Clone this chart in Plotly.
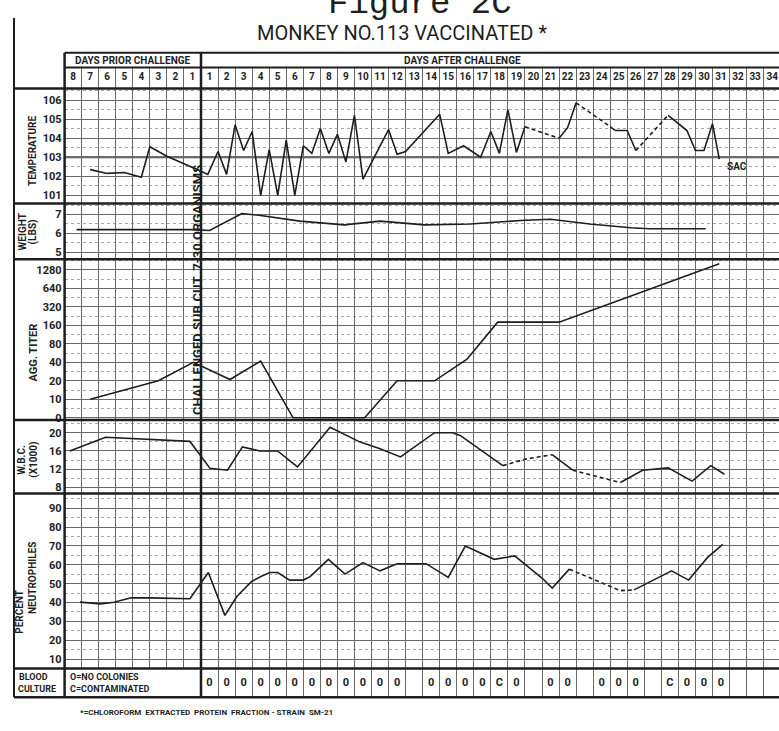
import math
import plotly.graph_objects as go

# ---------------------------------------------------------------------------
# Data (x = day relative to challenge; negative values are days prior)
# ---------------------------------------------------------------------------
PRIOR_LABELS = ["8", "7", "6", "5", "4", "3", "2", "1"]
AFTER_LABELS = ["1", "2", "3", "4", "5", "6", "7", "8", "9", "10", "11", "12",
                "13", "14", "15", "16", "17", "18", "19", "20", "21", "22", "23",
                "24", "25", "26", "27", "28", "29", "30", "31", "32", "33", "34"]

TEMP_DAYS = [-6.5, -5.5, -4.5, -3.5, -3.0, -2.0, -0.1,
             0.4, 1.0, 1.5, 2.0, 2.5, 3.0, 3.5, 4.0, 4.5, 5.0, 5.5, 6.0, 6.5,
             7.0, 7.5, 8.0, 8.5, 9.0, 9.5, 11.0, 11.5, 12.0, 14.0, 14.5, 15.4,
             16.4, 17.0, 17.5, 18.0, 18.5, 19.0, 21.0, 21.5, 22.0, 24.0, 24.3,
             25.0, 25.5, 27.4, 28.5, 29.0, 29.5, 30.0, 30.4]
TEMP_F = [102.35, 102.15, 102.2, 101.95, 103.55, 103.05, 102.3,
          102.1, 103.3, 102.1, 104.7, 103.35, 104.35, 101.0, 103.4, 101.0, 103.9,
          101.0, 103.6, 103.2, 104.5, 103.2, 104.2, 102.75, 105.2, 101.85,
          104.45, 103.15, 103.3, 105.25, 103.2, 103.6, 103.0, 104.35, 103.2,
          105.5, 103.25, 104.6, 104.0, 104.55, 105.85, 104.6, 104.4, 104.4,
          103.35, 105.2, 104.4, 103.35, 103.35, 104.75, 102.9]
TEMP_DASHED = [(19.0, 21.0), (22.0, 24.0), (25.5, 27.4)]

WEIGHT_DAYS = [-7.3, -0.5, 0.5, 2.4, 3.5, 5.8, 8.4, 10.5, 13.1, 15.8, 19.0,
               20.5, 22.8, 25.2, 26.3, 29.6]
WEIGHT_LBS = [6.2, 6.2, 6.15, 7.05, 6.95, 6.65, 6.45, 6.65, 6.45, 6.5, 6.7,
              6.75, 6.5, 6.3, 6.25, 6.25]

TITER_DAYS = [-6.5, -2.5, -0.45, 1.7, 3.5, 5.4, 9.6, 11.5, 13.7, 15.6, 17.4,
              21.0, 30.4]
TITER_VALUES = [10, 20, 40, 21, 42, 0, 0, 20, 20, 45, 180, 180, 1600]
TITER_TICKS = ["0", "10", "20", "40", "80", "160", "320", "640", "1280"]

WBC_DAYS = [-7.7, -5.6, -0.65, 0.53, 1.55, 2.43, 3.46, 4.49, 5.66, 7.57, 9.3,
            10.5, 11.7, 13.7, 14.75, 15.2, 17.7, 19.0, 20.6, 21.8, 24.6, 25.9,
            27.4, 28.8, 29.9, 30.7]
WBC_THOUSANDS = [16.0, 19.0, 18.1, 12.2, 11.8, 16.9, 16.0, 16.0, 12.5, 21.2,
                 18.0, 16.5, 14.7, 20.0, 20.0, 19.4, 12.8, 14.2, 15.2, 11.8,
                 9.1, 11.8, 12.3, 9.4, 12.8, 10.9]
WBC_DASHED = [(17.7, 20.6), (21.8, 24.6)]

NEUT_DAYS = [-7.1, -5.9, -5.1, -4.1, -3.0, -0.65, 0.43, 1.4, 2.1, 2.97, 3.6,
             4.05, 4.5, 5.2, 6.0, 6.4, 7.47, 8.45, 9.5, 10.5, 11.5, 13.2, 14.5,
             15.5, 17.2, 18.4, 20.0, 20.6, 21.6, 23.1, 24.6, 25.4, 26.1, 27.6,
             28.6, 29.7, 30.6]
NEUT_PERCENT = [40.2, 39.3, 40.2, 42.5, 42.5, 42.0, 55.9, 33.2, 43.2, 51.2,
                54.2, 55.9, 55.9, 51.9, 51.9, 53.7, 62.9, 55.1, 61.2, 56.8, 60.6,
                60.6, 53.3, 69.9, 62.9, 64.7, 53.0, 47.7, 57.7, 51.9, 46.3, 46.7,
                49.8, 56.8, 51.9, 63.8, 70.8]
NEUT_DASHED = [(21.6, 25.4)]

CULTURE_DAYS = [1, 2, 3, 4, 5, 6, 7, 8, 9, 10, 11, 12,
                14, 15, 16, 17, 18, 19,
                21, 22,
                24, 25, 26,
                28, 29, 30, 31]
CULTURE_MARKS = ["0", "0", "0", "0", "0", "0", "0", "0", "0", "0", "0", "0",
                 "0", "0", "0", "0", "C", "0",
                 "0", "0",
                 "0", "0", "0",
                 "C", "0", "0", "0"]

# ---------------------------------------------------------------------------
# Page geometry (pixels) and styling
# ---------------------------------------------------------------------------
W, H = 779, 731
CHALLENGE_PX = 201.0
DAY_PX = 17.05
GRID_LEFT_PX = CHALLENGE_PX - len(PRIOR_LABELS) * DAY_PX
FRAME_LEFT_PX = 14.0

HEADER_TOP, HEADER_MID, HEADER_BOT = 53, 68, 89
PANELS = {                       # top, bottom in pixels
    "temp": (89, 205),
    "weight": (205, 261),
    "titer": (261, 423),
    "wbc": (423, 497),
    "neut": (497, 673),
    "culture": (673, 702),
}

INK = "#1e1e1e"
GRID = "#6a6a6a"
MINOR = "#a8a8a8"
LETTERING = "Roboto, Liberation Sans, sans-serif"


def py(px):
    return 1 - px / H


def pxx(px):
    return px / W


def span(panel, ref_val, ref_px, px_per_unit):
    top, bottom = PANELS[panel]
    return [ref_val - (bottom - ref_px) / px_per_unit,
            ref_val + (ref_px - top) / px_per_unit]


def domain(top, bottom):
    return [py(bottom), py(top)]


def titer_level(v):
    return 0.0 if v == 0 else 1 + math.log2(v / 10.0)


def styled_segments(days, vals, dashed):
    """Split a polyline into runs of solid / dashed segments."""
    runs = []
    for i in range(len(days) - 1):
        a, b = days[i], days[i + 1]
        is_dash = any(lo - 1e-6 <= a and b <= hi + 1e-6 for lo, hi in dashed)
        if runs and runs[-1][0] == is_dash:
            runs[-1][1].append(i + 1)
        else:
            runs.append([is_dash, [i, i + 1]])
    return [(d, [days[k] for k in idx], [vals[k] for k in idx]) for d, idx in runs]


fig = go.Figure()


def add_series(days, vals, yaxis, dashed=()):
    for is_dash, xs, ys in styled_segments(days, vals, dashed):
        fig.add_trace(go.Scatter(
            x=xs, y=ys, yaxis=yaxis, mode="lines", hoverinfo="skip",
            line=dict(color=INK, width=1.6, dash="4px,3px" if is_dash else "solid"),
            showlegend=False))


add_series(TEMP_DAYS, TEMP_F, "y", TEMP_DASHED)
add_series(WEIGHT_DAYS, WEIGHT_LBS, "y2")
add_series(TITER_DAYS, [titer_level(v) for v in TITER_VALUES], "y3")
add_series(WBC_DAYS, WBC_THOUSANDS, "y4", WBC_DASHED)
add_series(NEUT_DAYS, NEUT_PERCENT, "y5", NEUT_DASHED)

# blood culture results, one per day cell
fig.add_trace(go.Scatter(
    x=[d - 0.5 for d in CULTURE_DAYS], y=[0.5] * len(CULTURE_DAYS), yaxis="y6",
    mode="text", text=CULTURE_MARKS, hoverinfo="skip", showlegend=False,
    textfont=dict(family=LETTERING, size=11, color=INK, weight=700)))

# day numbers in the header row
day_x = ([i - len(PRIOR_LABELS) + 0.5 for i in range(len(PRIOR_LABELS))] +
         [i + 0.5 for i in range(len(AFTER_LABELS))])
fig.add_trace(go.Scatter(
    x=day_x, y=[0.5] * len(day_x), yaxis="y7", mode="text",
    text=PRIOR_LABELS + AFTER_LABELS, hoverinfo="skip", showlegend=False,
    textfont=dict(family=LETTERING, size=10, color=INK, weight=700)))

tickfont = dict(family=LETTERING, size=11, color=INK, weight=700)


def value_axis(panel, rng, dtick, tick0, minor_dtick, **extra):
    ax = dict(domain=domain(*PANELS[panel]), range=rng, anchor="x",
              showgrid=True, gridcolor=GRID, gridwidth=1,
              dtick=dtick, tick0=tick0, ticks="", showline=False,
              zeroline=False, tickfont=tickfont, ticklabelstandoff=2,
              minor=dict(dtick=minor_dtick, showgrid=True, gridcolor=MINOR,
                         griddash="dot", gridwidth=1))
    ax.update(extra)
    return ax


x_max = (W - CHALLENGE_PX) / DAY_PX
fig.update_layout(
    width=W, height=H, margin=dict(l=0, r=0, t=0, b=0),
    paper_bgcolor="white", plot_bgcolor="white", showlegend=False,
    xaxis=dict(domain=[pxx(GRID_LEFT_PX), 1], range=[-len(PRIOR_LABELS), x_max],
               anchor="y", showgrid=True, gridcolor=GRID, gridwidth=1,
               dtick=1, tick0=0, showticklabels=False, ticks="",
               zeroline=False, showline=False),
    yaxis=value_axis("temp", span("temp", 106, 100.7, 19.2), 1, 101, 0.5),
    yaxis2=value_axis("weight", span("weight", 7, 216, 19.0), 1, 5, 0.5),
    yaxis3=value_axis("titer", span("titer", 0, 420.7, 18.63), None, None, 0.5,
                      tickmode="array", tickvals=list(range(len(TITER_TICKS))),
                      ticktext=TITER_TICKS),
    yaxis4=value_axis("wbc", span("wbc", 20, 435.7, 4.6), 4, 8, 2),
    yaxis5=value_axis("neut", span("neut", 90, 511.7, 1.9), 10, 10, 5),
    yaxis6=dict(domain=domain(*PANELS["culture"]), range=[0, 1], anchor="x",
                showgrid=False, showticklabels=False, zeroline=False, ticks=""),
    yaxis7=dict(domain=domain(HEADER_MID, HEADER_BOT), range=[0, 1], anchor="x",
                showgrid=False, showticklabels=False, zeroline=False, ticks=""),
)
# the minor grid of the titer axis needs its own dtick origin
fig.layout.yaxis3.minor.tick0 = 0
fig.layout.yaxis3.dtick = None
fig.layout.yaxis3.tick0 = None

shapes = []


def hline(ypx, x0px, x1px=W, width=2.5, color=INK):
    shapes.append(dict(type="line", xref="paper", yref="paper",
                       x0=pxx(x0px), x1=pxx(x1px), y0=py(ypx), y1=py(ypx),
                       line=dict(color=color, width=width), layer="above"))


def vline(xpx, y0px, y1px, width=2.5, color=INK):
    shapes.append(dict(type="line", xref="paper", yref="paper",
                       x0=pxx(xpx), x1=pxx(xpx), y0=py(y0px), y1=py(y1px),
                       line=dict(color=color, width=width), layer="above"))


# blank out the grid behind the culture legend text
shapes.append(dict(type="rect", xref="paper", yref="paper",
                   x0=pxx(GRID_LEFT_PX), x1=pxx(CHALLENGE_PX),
                   y0=py(PANELS["culture"][1]), y1=py(PANELS["culture"][0]),
                   fillcolor="white", line=dict(width=0), layer="above"))

# normal-temperature reference line
shapes.append(dict(type="line", xref="x", yref="y", x0=-len(PRIOR_LABELS),
                   x1=x_max, y0=103, y1=103, line=dict(color="#3a3a3a", width=2),
                   layer="below"))

# header box
hline(HEADER_TOP, GRID_LEFT_PX, width=2)
hline(HEADER_MID, GRID_LEFT_PX, width=2)
# panel separators
for name in ["temp", "weight", "titer", "wbc", "neut", "culture"]:
    hline(PANELS[name][0], FRAME_LEFT_PX, width=2.5)
hline(PANELS["culture"][1], FRAME_LEFT_PX, width=2.5)
# frame verticals
vline(FRAME_LEFT_PX, 18, PANELS["culture"][1], width=2)
vline(GRID_LEFT_PX, HEADER_TOP, PANELS["culture"][1], width=2.5)
# challenge line
shapes.append(dict(type="line", xref="x", yref="paper", x0=0, x1=0,
                   y0=py(PANELS["culture"][1]), y1=py(HEADER_TOP),
                   line=dict(color=INK, width=2.5), layer="above"))

annotations = []


def ann(text, xpx, ypx, size=11, angle=0, xanchor="center", weight=700,
        family=LETTERING, color=INK):
    annotations.append(dict(text=text, x=pxx(xpx), y=py(ypx), xref="paper",
                            yref="paper", showarrow=False, textangle=angle,
                            xanchor=xanchor, yanchor="middle",
                            font=dict(family=family, size=size, color=color,
                                      weight=weight)))


ann("Figure 2C", 420, 4, size=34, weight=400,
    family="Liberation Mono, Courier New, monospace")
ann("MONKEY NO.113 VACCINATED *", 402, 33, size=20, weight=400)
ann("DAYS PRIOR CHALLENGE", (GRID_LEFT_PX + CHALLENGE_PX) / 2, 61, size=10)
ann("DAYS AFTER CHALLENGE", 462, 61, size=10)

ann("TEMPERATURE", 33, 152, size=10, angle=-90)
ann("WEIGHT", 22, 234, size=10, angle=-90)
ann("(LBS)", 33, 234, size=10, angle=-90)
ann("AGG. TITER", 34, 355, size=11, angle=-90)
ann("W.B.C.", 22, 463, size=10, angle=-90)
ann("(X1000)", 34, 463, size=10, angle=-90)
ann("PERCENT", 20, 616, size=10, angle=-90)
ann("NEUTROPHILES", 32, 582, size=10, angle=-90)

ann("BLOOD", 17, 682, size=9, xanchor="left")
ann("CULTURE", 16, 694, size=9, xanchor="left")
ann("O=NO COLONIES", 68, 682, size=9, xanchor="left")
ann("C=CONTAMINATED", 68, 694, size=9, xanchor="left")

ann("CHALLENGED SUB.CUT. 7-30 ORGANISMS", 197, 292, size=13, angle=-90)
ann("SAC", 737, 168, size=10)
ann("*=CHLOROFORM  EXTRACTED  PROTEIN  FRACTION - STRAIN  SM-21", 78, 717,
    size=8, xanchor="left")

fig.update_layout(shapes=shapes, annotations=annotations)
fig.write_html("out.html")
